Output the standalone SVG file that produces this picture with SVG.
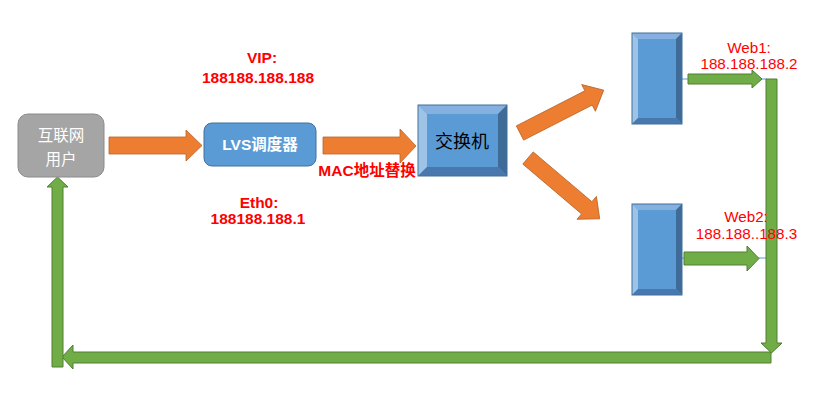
<svg xmlns="http://www.w3.org/2000/svg" width="826" height="408" viewBox="0 0 826 408">
<style>
.orange{fill:#ed7d31;stroke:#b9652b;stroke-width:0.8}
.green{fill:#70ad47;stroke:#507e32;stroke-width:1}
.link{stroke:#5b9bd5;stroke-width:1;fill:none}
.red{fill:#ff0000;font-family:"Liberation Sans","Noto Sans CJK SC",sans-serif;font-size:15.5px}
.w{font-size:15.2px}
.b{font-weight:bold}
.bt{fill:#85b0df}.bl{fill:#9dc3e6}.br{fill:#3e6b97}.bb{fill:#4878ae}.bc{fill:#5b9bd5}
.edge{fill:none;stroke:#41719c;stroke-width:1}
</style>
<rect width="826" height="408" fill="#ffffff"/>
<g id="connectors">
<polygon class="orange" points="109,137 186,137 186,130 202,145.5 186,161 186,154 109,154"/>
<polygon class="orange" points="323,137 400,137 400,129 416,146 400,163 400,154 323,154"/>
<polygon class="orange" transform="translate(520,133) rotate(-27.1)" points="0,-8 77,-8 77,-15 94,0 77,15 77,8 0,8"/>
<polygon class="orange" transform="translate(528,158) rotate(40.3)" points="0,-8 77,-8 77,-15 94,0 77,15 77,8 0,8"/>
<line class="link" x1="682" y1="79" x2="688" y2="79"/>
<line class="link" x1="760" y1="79" x2="767" y2="79"/>
<line class="link" x1="682" y1="258" x2="684" y2="258"/>
<line class="link" x1="757" y1="258" x2="767" y2="258"/>
<polygon class="green" points="688,74 752,74 752,70 762,79 752,88 752,84 688,84"/>
<polygon class="green" points="684,252 747,252 747,246 759,258.5 747,271 747,265 684,265"/>
<polygon class="green" points="771,352 771,363 73,363 73,369 62,357 73,345 73,352"/>
<polygon class="green" points="766,79 777,79 777,343 782,343 771.5,353 761,343 766,343"/>
<polygon class="green" points="52,367 63,367 63,187 68,187 57.5,177 47,187 52,187"/>
</g>
<g id="user">
<rect x="18" y="114" width="86" height="63" rx="10" fill="#a5a5a5" stroke="#8a8a8a" stroke-width="1"/>
<text x="61" y="134" fill="#ffffff" font-family="Noto Sans CJK SC,sans-serif" font-size="15.5" text-anchor="middle" dominant-baseline="central">互联网</text>
<text x="61" y="157.5" fill="#ffffff" font-family="Noto Sans CJK SC,sans-serif" font-size="15.5" text-anchor="middle" dominant-baseline="central">用户</text>
</g>
<g id="lvs">
<rect x="204" y="123" width="112" height="43" rx="8" fill="#5b9bd5" stroke="#41719c" stroke-width="1"/>
<text x="260" y="144.5" fill="#ffffff" font-family="Liberation Sans,Noto Sans CJK SC,sans-serif" font-size="15.5" font-weight="bold" text-anchor="middle" dominant-baseline="central">LVS调度器</text>
</g>
<g id="vip-label">
<text class="red b" x="262" y="63" text-anchor="middle">VIP:</text>
<text class="red b" x="258" y="83" text-anchor="middle">188188.188.188</text>
</g>
<g id="eth0-label">
<text class="red b" x="259" y="208" text-anchor="middle">Eth0:</text>
<text class="red b" x="258" y="224" text-anchor="middle">188188.188.1</text>
</g>
<g id="mac-label">
<text class="red b" x="367" y="170" font-size="16.5" text-anchor="middle" dominant-baseline="central">MAC地址替换</text>
</g>
<g id="switch">
<rect class="bc" x="418" y="105" width="89" height="71"/>
<polygon class="bt" points="418,105 507,105 498,114 427,114"/>
<polygon class="bl" points="418,105 427,114 427,167 418,176"/>
<polygon class="br" points="507,105 507,176 498,167 498,114"/>
<polygon class="bb" points="418,176 507,176 498,167 427,167"/>
<rect class="edge" x="418" y="105" width="89" height="71"/>
<text x="462" y="140" fill="#000000" font-family="Noto Sans CJK SC,sans-serif" font-size="18" text-anchor="middle" dominant-baseline="central">交换机</text>
</g>
<g id="web1">
<rect class="bc" x="632" y="33" width="50" height="91"/>
<polygon class="bt" points="632,33 682,33 676,39 638,39"/>
<polygon class="bl" points="632,33 638,39 638,118 632,124"/>
<polygon class="br" points="682,33 682,124 676,118 676,39"/>
<polygon class="bb" points="632,124 682,124 676,118 638,118"/>
<rect class="edge" x="632" y="33" width="50" height="91"/>
</g>
<g id="web1-label">
<text class="red w" x="749" y="52.5" text-anchor="middle">Web1:</text>
<text class="red w" x="749" y="69" text-anchor="middle">188.188.188.2</text>
</g>
<g id="web2">
<rect class="bc" x="632" y="204" width="50" height="91"/>
<polygon class="bt" points="632,204 682,204 676,210 638,210"/>
<polygon class="bl" points="632,204 638,210 638,289 632,295"/>
<polygon class="br" points="682,204 682,295 676,289 676,210"/>
<polygon class="bb" points="632,295 682,295 676,289 638,289"/>
<rect class="edge" x="632" y="204" width="50" height="91"/>
</g>
<g id="web2-label">
<text class="red w" x="746" y="222" text-anchor="middle">Web2:</text>
<text class="red w" x="746.5" y="238.5" text-anchor="middle">188.188..188.3</text>
</g>
</svg>
